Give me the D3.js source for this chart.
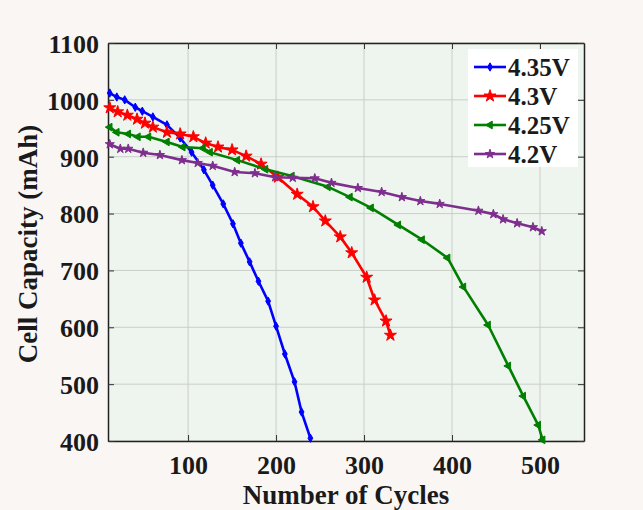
<!DOCTYPE html>
<html><head><meta charset="utf-8">
<script src="https://cdn.jsdelivr.net/npm/d3@7"></script>
<style>
html,body{margin:0;padding:0;background:#faf6f4;}
svg{display:block;}
text{font-family:"Liberation Serif","Times New Roman",serif;font-weight:bold;fill:#1a1a1a;}
</style></head>
<body>
<svg id="chart" width="643" height="510"></svg>
<script>
const seriesNames = ["4.35V", "4.3V", "4.25V", "4.2V"];
const seriesColors = ["#0000ff", "#ff0000", "#007f00", "#7e2f8e"];
const xTicks = [100, 200, 300, 400, 500];
const yTicks = [400, 500, 600, 700, 800, 900, 1000, 1100];

const cycles435 = [11, 19, 28, 40, 48, 60, 76, 91, 104, 118, 128, 140, 151, 160, 170, 180, 191, 200, 210, 221, 229, 239];
const cap435    = [1012, 1005, 1000, 987, 980, 970, 956, 933, 908, 877, 850, 817, 782, 748, 715, 681, 646, 602, 553, 504, 451, 405];

const cycles43 = [11, 20, 31, 42, 51, 60, 76, 91, 106, 120, 134, 150, 166, 183, 202, 224, 242, 256, 273, 286, 303, 312, 325, 330];
const cap43    = [986, 979, 973, 966, 959, 952, 943, 940, 935, 924, 917, 912, 901, 887, 864, 834, 812, 787, 759, 731, 688, 648, 611, 586];

const cycles425 = [11, 19, 32, 43, 55, 76, 94, 117, 125, 156, 188, 218, 259, 284, 308, 339, 366, 395, 413, 441, 464, 481, 498, 503];
const cap425    = [952, 943, 940, 935, 935, 926, 917, 915, 908, 894, 878, 866, 847, 829, 810, 780, 754, 722, 671, 604, 532, 479, 428, 402];

const cycles42 = [11, 23, 32, 49, 68, 93, 111, 128, 153, 176, 199, 219, 244, 263, 293, 320, 343, 364, 386, 430, 447, 458, 474, 492, 502];
const cap42    = [922, 914, 914, 907, 903, 894, 889, 884, 873, 871, 864, 863, 862, 854, 845, 838, 829, 822, 817, 805, 799, 790, 783, 776, 769];

const seriesX = [cycles435, cycles43, cycles425, cycles42];
const seriesY = [cap435, cap43, cap425, cap42];

const svg = d3.select("#chart");
const L = 108, R = 584, T = 43, B = 441;
const x = d3.scaleLinear().domain([9, 550]).range([L, R]);
const y = d3.scaleLinear().domain([400, 1100]).range([B, T]);

// plot background
svg.append("rect").attr("x", L).attr("y", T).attr("width", R - L).attr("height", B - T).attr("fill", "#eef4ee");

// grid
const grid = svg.append("g");
grid.selectAll("line.gx").data(xTicks).enter().append("line")
  .attr("x1", d => x(d)).attr("x2", d => x(d)).attr("y1", T).attr("y2", B)
  .attr("stroke", "#c9cec9").attr("stroke-width", 1);
grid.selectAll("line.gy").data(yTicks).enter().append("line")
  .attr("y1", d => y(d)).attr("y2", d => y(d)).attr("x1", L).attr("x2", R)
  .attr("stroke", "#c9cec9").attr("stroke-width", 1);

// axes
const fmt = d3.format("d");
const xAxis = svg.append("g").attr("transform", `translate(0,${B})`)
  .call(d3.axisBottom(x).tickValues(xTicks).tickFormat(fmt).tickSizeInner(-6).tickSizeOuter(0).tickPadding(15));
const xTop = svg.append("g").attr("transform", `translate(0,${T})`)
  .call(d3.axisTop(x).tickValues(xTicks).tickFormat("").tickSizeInner(-6).tickSizeOuter(0));
const yAxis = svg.append("g").attr("transform", `translate(${L},0)`)
  .call(d3.axisLeft(y).tickValues(yTicks).tickFormat(fmt).tickSizeInner(-6).tickSizeOuter(0).tickPadding(9));
const yRight = svg.append("g").attr("transform", `translate(${R},0)`)
  .call(d3.axisRight(y).tickValues(yTicks).tickFormat("").tickSizeInner(-6).tickSizeOuter(0));
[xAxis, xTop, yAxis, yRight].forEach(g => {
  g.select(".domain").attr("stroke", "#222").attr("stroke-width", 1.5);
  g.selectAll(".tick line").attr("stroke", "#333").attr("stroke-width", 1);
  g.selectAll(".tick text").style("font-size", "26px").style("font-family", "Liberation Serif, serif").style("font-weight", "bold").attr("fill", "#1a1a1a");
});
yAxis.selectAll(".tick text").attr("dy", "0.36em");

// axis titles
svg.append("text").attr("x", (L + R) / 2).attr("y", 504).attr("text-anchor", "middle")
  .style("font-size", "27px").text("Number of Cycles");
svg.append("text").attr("transform", `translate(37,${(T + B) / 2 + 2}) rotate(-90)`).attr("text-anchor", "middle")
  .style("font-size", "27px").text("Cell Capacity (mAh)");

// marker shapes
const symbols = [
  {type: d3.symbolDiamond, size: 20, rot: 0},
  {type: d3.symbolStar, size: 45, rot: 0},
  {type: d3.symbolTriangle, size: 26, rot: -90},
  {type: d3.symbolStar, size: 26, rot: 0}
];

const line = d3.line().x(d => x(d[0])).y(d => y(d[1]));
seriesNames.forEach((name, i) => {
  const pts = seriesX[i].map((c, k) => [c, seriesY[i][k]]);
  const g = svg.append("g");
  g.append("path").datum(pts).attr("d", line).attr("fill", "none")
    .attr("stroke", seriesColors[i]).attr("stroke-width", 2.6).attr("stroke-linejoin", "round");
  g.selectAll("path.m").data(pts).enter().append("path").attr("class", "m")
    .attr("d", d3.symbol().type(symbols[i].type).size(symbols[i].size))
    .attr("transform", d => `translate(${x(d[0])},${y(d[1])}) rotate(${symbols[i].rot})`)
    .attr("fill", seriesColors[i]).attr("stroke", seriesColors[i]).attr("stroke-width", 1);
});

// legend
const lg = svg.append("g");
lg.append("rect").attr("x", 468).attr("y", 49).attr("width", 110).attr("height", 118).attr("fill", "#ffffff");
seriesNames.forEach((name, i) => {
  const cy = 67 + i * 29;
  lg.append("line").attr("x1", 474).attr("x2", 506).attr("y1", cy).attr("y2", cy)
    .attr("stroke", seriesColors[i]).attr("stroke-width", 2.6);
  lg.append("path").attr("d", d3.symbol().type(symbols[i].type).size(symbols[i].size))
    .attr("transform", `translate(490,${cy}) rotate(${symbols[i].rot})`)
    .attr("fill", seriesColors[i]).attr("stroke", seriesColors[i]).attr("stroke-width", 1);
  lg.append("text").attr("x", 508).attr("y", cy).attr("dy", "0.35em")
    .style("font-size", "25px").text(name);
});
</script>
</body></html>
